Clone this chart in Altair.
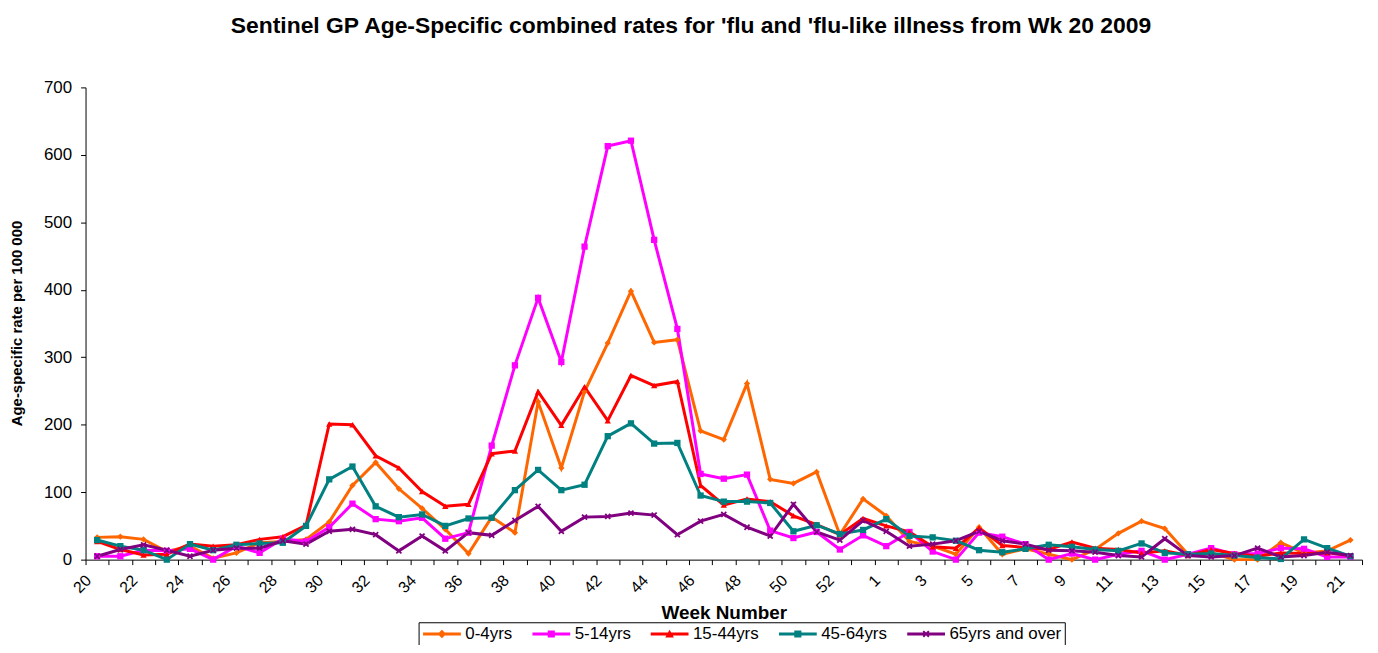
import altair as alt
import pandas as pd

# Week labels: 2009 weeks 20..53, then 2010 weeks 1..21
weeks = list(range(20, 54)) + list(range(1, 22))

series_names = ["0-4yrs", "5-14yrs", "15-44yrs", "45-64yrs", "65yrs and over"]

age_0_4 = [33, 34, 30, 12, 20, 2, 10, 25, 27, 30, 56, 110, 144, 105, 76, 45, 9, 63, 40,
           234, 136, 249, 321, 398, 322, 326, 191, 178, 261, 119, 113, 130, 37, 90, 65,
           27, 20, 8, 48, 8, 16, 8, 0, 15, 39, 57, 46, 8, 10, 0, 0, 25, 10, 13, 29]
age_5_14 = [5, 5, 14, 13, 16, 0, 20, 10, 31, 27, 48, 83, 60, 57, 62, 31, 40, 169, 288,
            388, 293, 464, 613, 621, 474, 342, 127, 120, 126, 43, 32, 41, 15, 36, 20,
            41, 12, 0, 40, 34, 23, 0, 9, 0, 8, 13, 0, 8, 17, 8, 9, 17, 16, 4, 4]
age_15_44 = [27, 15, 7, 8, 23, 20, 22, 30, 34, 51, 201, 200, 154, 136, 101, 79, 82, 157,
             161, 249, 199, 256, 206, 273, 258, 264, 110, 81, 90, 86, 65, 52, 37, 61, 50,
             41, 19, 17, 47, 21, 18, 15, 26, 17, 15, 10, 13, 6, 15, 9, 5, 10, 9, 10, 6]
age_45_64 = [29, 20, 14, 0, 23, 14, 22, 24, 25, 50, 119, 138, 79, 63, 67, 50, 61, 62, 103,
             133, 103, 111, 183, 202, 172, 173, 95, 86, 86, 84, 42, 51, 38, 44, 60, 35,
             33, 28, 14, 11, 16, 22, 19, 15, 13, 24, 10, 8, 9, 6, 3, 1, 30, 17, 5]
age_65_plus = [5, 15, 22, 14, 5, 14, 17, 17, 28, 23, 42, 45, 37, 13, 35, 13, 40, 36, 58,
               79, 42, 63, 64, 69, 66, 37, 57, 67, 48, 35, 82, 41, 29, 58, 42, 20, 23, 28,
               42, 28, 23, 14, 13, 11, 6, 4, 31, 6, 4, 6, 17, 4, 6, 11, 6]

colors = ["#FF6600", "#FF00FF", "#FF0000", "#008080", "#800080"]
x_shape = "M-1,-0.6L-0.6,-1L0,-0.4L0.6,-1L1,-0.6L0.4,0L1,0.6L0.6,1L0,0.4L-0.6,1L-1,0.6L-0.4,0Z"
shapes = ["diamond", "square", "triangle-up", "square", x_shape]

# legend glyphs: a line segment with the series marker in its middle
leg_line = "M-1,-0.21L4.43,-0.21L4.43,0.21L-1,0.21Z"
legend_shapes = [
    leg_line + "M1.71,-0.62L2.33,0L1.71,0.62L1.09,0Z",
    leg_line + "M1.2,-0.5L2.22,-0.5L2.22,0.5L1.2,0.5Z",
    leg_line + "M1.71,-0.62L2.33,0.5L1.09,0.5Z",
    leg_line + "M1.2,-0.5L2.22,-0.5L2.22,0.5L1.2,0.5Z",
    leg_line + "M1.21,-0.3L1.41,-0.5L1.71,-0.2L2.01,-0.5L2.21,-0.3L1.91,0L2.21,0.3L2.01,0.5"
               "L1.71,0.2L1.41,0.5L1.21,0.3L1.51,0Z",
]

rows = []
for k, (name, vals) in enumerate(zip(series_names,
                                     [age_0_4, age_5_14, age_15_44, age_45_64, age_65_plus])):
    for i, (w, v) in enumerate(zip(weeks, vals)):
        rows.append({"idx": i, "week": str(w), "series": name, "value": v, "k": k})
df = pd.DataFrame(rows)

label_array = "[" + ",".join("'%d'" % w for w in weeks) + "]"
label_expr = "datum.value % 2 == 0 ? " + label_array + "[datum.value] : ''"

FONT = "Liberation Sans"

x_enc = alt.X(
    "idx:O",
    scale=alt.Scale(type="band", paddingInner=0, paddingOuter=0),
    axis=alt.Axis(
        title="Week Number",
        labelExpr=label_expr,
        labelAngle=-45,
        labelAlign="right",
        labelBaseline="middle",
        labelOffset=-9,
        labelPadding=13,
        tickBand="extent",
        tickSize=5,
        tickColor="#000000",
        domainColor="#000000",
        labelFont=FONT,
        labelFontSize=16,
        labelColor="#000000",
        labelOverlap=False,
        titleFont=FONT,
        titleFontSize=19,
        titleFontWeight="bold",
        titleColor="#000000",
        titleY=53,
        titleBaseline="middle",
        grid=False,
    ),
)
y_enc = alt.Y(
    "value:Q",
    scale=alt.Scale(domain=[0, 700], nice=False),
    axis=alt.Axis(
        title="Age-specific rate per 100 000",
        values=list(range(0, 701, 100)),
        tickSize=5,
        tickColor="#000000",
        domainColor="#000000",
        labelFont=FONT,
        labelFontSize=17,
        labelColor="#000000",
        labelPadding=9,
        titleFont=FONT,
        titleFontSize=15,
        titleFontWeight="bold",
        titleColor="#000000",
        titleX=-69,
        titleY=237,
        titleBaseline="middle",
        grid=False,
    ),
)

legend_props = dict(
    orient="none",
    legendX=335,
    legendY=538,
    direction="horizontal",
    title=None,
    symbolSize=196,
    symbolOpacity=1,
    symbolStrokeWidth=0,
    symbolFillColor="#000000",
    labelFont=FONT,
    labelFontSize=17,
    labelColor="#000000",
    labelOffset=27,
    columnPadding=18,
    strokeColor="#000000",
    padding=3,
    fillColor="#FFFFFF",
)

base = alt.Chart(df)
color_scale = alt.Scale(domain=series_names, range=colors)
color_enc = alt.Color("series:N", scale=color_scale, legend=alt.Legend(**legend_props))

lines = base.mark_line(strokeWidth=3).encode(
    x=x_enc,
    y=y_enc,
    color=color_enc,
    detail="k:O",
    order="idx:O",
)

marker_layers = []
for name, shp in zip(series_names, shapes):
    marker_layers.append(
        base.transform_filter(alt.datum.series == name)
        .mark_point(filled=True, size=40, opacity=1, shape=shp)
        .encode(
            x=alt.X("idx:O"),
            y=alt.Y("value:Q"),
            color=color_enc,
        )
    )

legend_layer = base.mark_point(filled=True, opacity=0).encode(
    x=alt.X("idx:O"),
    y=alt.Y("value:Q"),
    color=color_enc,
    shape=alt.Shape(
        "series:N",
        scale=alt.Scale(domain=series_names, range=legend_shapes),
        legend=alt.Legend(**legend_props),
    ),
)

chart = (
    alt.layer(lines, *marker_layers, legend_layer)
    .properties(
        width=1284,
        height=475,
        autosize="none",
        padding={"left": 78, "top": 78, "right": 8, "bottom": 84},
        title=alt.TitleParams(
            text="Sentinel GP Age-Specific combined rates for 'flu and 'flu-like illness from Wk 20 2009",
            font=FONT,
            fontSize=23,
            fontWeight="bold",
            color="#000000",
            anchor="middle",
            dx=-33,
            offset=41,
        ),
        background="#FFFFFF",
    )
    .configure_view(stroke=None)
)

chart.save("out.html", embed_options={"renderer": "svg", "actions": False})
